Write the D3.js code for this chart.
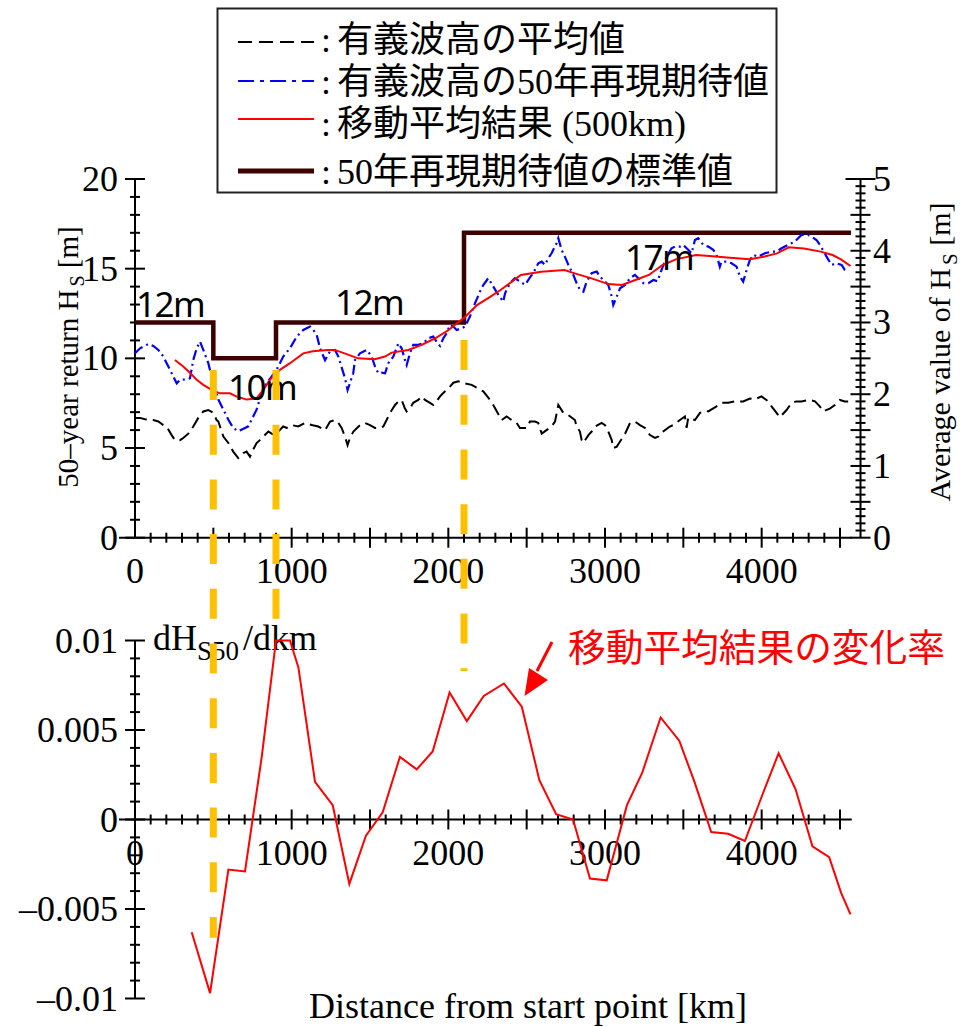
<!DOCTYPE html>
<html><head><meta charset="utf-8">
<script src="https://cdn.jsdelivr.net/npm/d3@7"></script>
<style>body{margin:0;background:#fff}svg{display:block}</style>
</head><body>
<svg id="c" width="971" height="1027"></svg>
<script>
// ---------------- DATA ----------------
const blueKm = [0,32,85,117,149,181,202,234,266,287,330,351,372,394,415,436,468,489,532,564,596,627,659,702,723,755,776,808,840,904,946,989,1032,1074,1117,1138,1160,1181,1213,1245,1277,1298,1319,1340,1357,1393,1404,1436,1479,1511,1532,1553,1574,1596,1617,1649,1681,1702,1723,1734,1755,1776,1808,1840,1872,1904,1925,1947,1968,1989,2010,2032,2053,2085,2106,2138,2170,2202,2223,2255,2287,2319,2351,2362,2393,2425,2457,2490,2520,2542,2574,2596,2617,2638,2659,2691,2702,2723,2744,2766,2798,2819,2840,2862,2883,2915,2947,2968,3000,3021,3043,3053,3075,3096,3128,3160,3191,3213,3245,3277,3309,3335,3361,3393,3425,3446,3478,3499,3531,3553,3574,3595,3627,3659,3691,3712,3733,3744,3776,3808,3840,3861,3882,3904,3925,3946,3978,4020,4063,4095,4127,4170,4212,4233,4254,4297,4318,4350,4371,4403,4414,4446,4478,4510,4531,4550];
const blueHs = [10.28,10.56,10.8,10.69,10.47,10.1,9.73,9.17,8.61,8.8,8.83,8.89,9.91,10.56,10.93,10.47,9.73,8.98,7.7,7.14,6.58,6.12,5.94,6.12,6.21,6.77,7.14,8.05,8.61,9.36,10.1,10.56,11.21,11.58,11.77,11.58,11.31,10.56,9.9,10.4,10.47,10.1,9.5,8.9,8.24,9.17,9.91,10.28,10.47,10.1,9.54,9.17,9.2,9.17,9.73,10.1,10.84,10.56,9.91,9.63,10.28,10.75,10.75,10.84,11.12,11.21,10.93,10.69,11.12,11.4,11.86,11.77,11.58,11.68,11.77,12.33,13.07,13.72,14.09,14.47,14.0,13.54,13.16,13.63,14.19,14.47,14.28,14.1,14.5,14.75,15.3,15.39,15.21,15.58,15.86,16.42,16.7,16.05,15.67,15.21,14.65,14.19,13.82,13.72,14.28,14.75,14.84,14.56,14.28,14.09,13.44,12.98,13.44,13.91,14.09,14.47,14.65,14.47,14.19,14.19,14.37,14.3,14.93,15.67,16.14,16.23,16.23,16.33,16.05,15.86,16.6,16.7,16.33,16.23,16.05,15.77,15.11,15.39,15.39,15.3,15.11,14.56,14.28,14.93,15.49,15.77,15.67,15.86,15.95,15.95,16.14,16.33,16.51,16.7,16.88,16.88,16.79,16.6,16.33,15.86,15.67,15.21,15.3,15.21,14.93,14.9];

const avgKm = [0,32,64,117,149,181,202,234,255,287,308,340,372,404,436,468,500,521,532,564,596,627,659,691,712,734,755,776,797,819,851,872,893,946,968,1000,1042,1085,1128,1170,1213,1245,1277,1298,1319,1340,1357,1372,1394,1436,1468,1500,1532,1564,1585,1606,1628,1660,1681,1702,1723,1734,1755,1776,1808,1830,1851,1883,1904,1925,1947,1979,2000,2032,2064,2106,2149,2191,2223,2266,2287,2340,2372,2404,2436,2457,2500,2521,2553,2574,2596,2627,2659,2681,2702,2734,2766,2808,2819,2840,2851,2862,2894,2915,2936,2979,3000,3021,3043,3053,3075,3096,3128,3160,3191,3223,3255,3287,3319,3340,3351,3383,3414,3436,3478,3510,3521,3531,3574,3606,3638,3659,3712,3744,3787,3829,3882,3925,3957,3999,4042,4063,4095,4116,4159,4191,4223,4254,4308,4340,4371,4393,4435,4467,4499,4531,4552];
const avgHs = [1.67,1.67,1.65,1.64,1.62,1.57,1.55,1.43,1.36,1.36,1.39,1.45,1.55,1.67,1.76,1.78,1.74,1.64,1.62,1.41,1.32,1.2,1.11,1.18,1.2,1.13,1.23,1.32,1.36,1.41,1.48,1.45,1.43,1.55,1.53,1.57,1.55,1.6,1.57,1.55,1.5,1.62,1.64,1.6,1.53,1.41,1.29,1.39,1.48,1.57,1.6,1.57,1.53,1.53,1.55,1.64,1.74,1.85,1.9,1.92,1.8,1.76,1.8,1.88,1.92,1.97,1.92,1.88,1.85,1.9,1.97,2.04,2.08,2.16,2.18,2.15,2.13,2.08,2.04,1.92,1.85,1.64,1.69,1.64,1.6,1.53,1.53,1.62,1.62,1.6,1.45,1.5,1.55,1.62,1.85,1.74,1.71,1.64,1.55,1.48,1.36,1.32,1.43,1.48,1.55,1.6,1.57,1.48,1.36,1.25,1.27,1.34,1.45,1.6,1.62,1.57,1.53,1.43,1.39,1.41,1.45,1.5,1.55,1.57,1.64,1.69,1.53,1.67,1.64,1.74,1.77,1.76,1.83,1.88,1.88,1.9,1.9,1.94,1.93,1.97,1.9,1.83,1.74,1.68,1.78,1.88,1.9,1.9,1.92,1.9,1.83,1.76,1.8,1.85,1.92,1.9,1.9];

const maKm = [255,308,351,394,436,489,542,606,649,713,776,819,861,925,989,1074,1135,1231,1274,1338,1424,1531,1595,1638,1745,1830,1916,2002,2108,2183,2269,2333,2463,2592,2742,2807,2914,3022,3108,3194,3280,3366,3452,3581,3667,3796,3926,4012,4098,4173,4270,4377,4453,4506,4567];
const maHs = [9.91,9.55,9.2,8.8,8.52,8.24,8.05,8.05,7.87,7.7,7.77,8.24,8.8,9.36,9.73,10.28,10.4,10.47,10.47,10.28,10.0,9.95,10.1,10.32,10.47,10.75,11.12,11.58,12.32,12.97,13.44,13.81,14.65,14.83,14.93,14.74,14.46,14.14,14.09,14.37,14.65,15.2,15.52,15.76,15.71,15.61,15.52,15.67,15.85,16.19,16.13,15.95,15.76,15.52,15.15];

const rateKm = [362,479,596,702,809,900,989,1043,1149,1262,1368,1474,1581,1691,1798,1900,2008,2118,2226,2355,2469,2581,2688,2796,2904,3011,3140,3237,3355,3474,3571,3678,3786,3893,4001,4108,4216,4324,4431,4507,4567];
const rateVal = [-0.0063,-0.0097,-0.0028,-0.0029,0.0035,0.0100,0.0100,0.0085,0.0021,0.0008,-0.0036,-0.0009,0.0004,0.0035,0.0028,0.0038,0.0071,0.0055,0.0069,0.0076,0.0063,0.0022,0.0003,0.0000,-0.0033,-0.0034,0.0008,0.0026,0.0057,0.0044,0.0021,-0.0007,-0.0008,-0.0012,0.0013,0.0037,0.0017,-0.0015,-0.0021,-0.0041,-0.0053];

const stdKm = [0,500,900,2100,4570];
const stdHs = [12,10,12,17,17];
const stdTexts = ["12m","10m","12m","17m"];
const guideKm = [500,900,2100];

const xTickVals = [0,1000,2000,3000,4000];
const leftTickVals = [0,5,10,15,20];
const rightTickVals = [0,1,2,3,4,5];
const rateTickVals = [-0.01,-0.005,0,0.005,0.01];
const rateTickText = ["\u20130.01","\u20130.005","0","0.005","0.01"];

const legendTexts = ["有義波高の平均値","有義波高の50年再現期待値","移動平均結果 (500km)","50年再現期待値の標準値"];

// ---------------- LAYOUT ----------------
const SERIF = "'Liberation Serif','Times New Roman','Noto Sans CJK JP',serif";
const SANS = "'Noto Sans','Liberation Sans',sans-serif";
const CJK = "'Noto Sans CJK JP','Noto Sans',sans-serif";
const svg = d3.select("#c");

const x = d3.scaleLinear().domain([0,4500]).range([135,840]);
const yL = d3.scaleLinear().domain([0,20]).range([537.7,179]);
const yR = d3.scaleLinear().domain([0,5]).range([537.7,179]);
const yB = d3.scaleLinear().domain([-0.01,0.01]).range([998.5,640.5]);
const xEnd = x(4575);
const rightX = 860.5;

const ax = svg.append("g").attr("stroke","#000").attr("stroke-width",2).attr("fill","none");

function hTicks(x0, ys, lens){ ys.forEach((yy,i)=>{ ax.append("line").attr("x1",x0-lens[i]).attr("x2",x0+lens[i]).attr("y1",yy).attr("y2",yy); }); }
function vTicks(y0, xs, lens){ xs.forEach((xx,i)=>{ ax.append("line").attr("y1",y0-lens[i]).attr("y2",y0+lens[i]).attr("x1",xx).attr("x2",xx); }); }

// top plot axes
ax.append("line").attr("x1",x(0)).attr("x2",x(0)).attr("y1",yL(20)).attr("y2",yL(0));
ax.append("line").attr("x1",rightX).attr("x2",rightX).attr("y1",yR(5)).attr("y2",yR(0));
ax.append("line").attr("x1",119).attr("x2",xEnd).attr("y1",yL(0)).attr("y2",yL(0));
const lt = d3.range(0,21,1);
hTicks(x(0), lt.map(v=>yL(v)), lt.map(v=>v%5===0?10:5));
const rt = d3.range(0,51,1);
hTicks(rightX, rt.map(v=>yR(v/10)), rt.map(v=>v===50?15:(v%5===0?10:5)));
const xt = d3.range(100,4501,100);
vTicks(yL(0), xt.map(v=>x(v)), xt.map(v=>v%500===0?10:5));

// bottom plot axes
ax.append("line").attr("x1",x(0)).attr("x2",x(0)).attr("y1",yB(0.01)).attr("y2",yB(-0.01));
ax.append("line").attr("x1",119).attr("x2",xEnd).attr("y1",yB(0)).attr("y2",yB(0));
const bt = d3.range(-10,11,1);
hTicks(x(0), bt.map(v=>yB(v/1000)), bt.map(v=>v%5===0?10:5));
vTicks(yB(0), xt.map(v=>x(v)), xt.map(v=>v%500===0?10:5));

// tick labels
const tl = svg.append("g").attr("font-family",SERIF).attr("font-size",36).attr("fill","#000");
tl.selectAll(".xl1").data(xTickVals).join("text").attr("x",d=>x(d)).attr("y",583).attr("text-anchor","middle").text(d=>d);
tl.selectAll(".xl2").data(xTickVals).join("text").attr("x",d=>x(d)).attr("y",865).attr("text-anchor","middle").text(d=>d);
tl.selectAll(".yl").data(leftTickVals).join("text").attr("x",118).attr("y",d=>yL(d)+12).attr("text-anchor","end").text(d=>d);
tl.selectAll(".yr").data(rightTickVals).join("text").attr("x",873).attr("y",d=>yR(d)+12).attr("text-anchor","start").text(d=>d);
tl.selectAll(".yb").data(rateTickVals).join("text").attr("x",118).attr("y",d=>yB(d)+12).attr("text-anchor","end").text((d,i)=>rateTickText[i]);

// axis titles
const lt1 = svg.append("text").attr("transform","translate(78,357) rotate(-90)").attr("text-anchor","middle")
  .attr("font-family",SERIF).attr("font-size",29);
lt1.append("tspan").text("50\u2013year return H");
lt1.append("tspan").attr("font-size",20).attr("dy",6).attr("dx",3).text("S");
lt1.append("tspan").attr("dy",-6).text(" [m]");
const rt1 = svg.append("text").attr("transform","translate(950,352) rotate(-90)").attr("text-anchor","middle")
  .attr("font-family",SERIF).attr("font-size",30);
rt1.append("tspan").text("Average value of H");
rt1.append("tspan").attr("font-size",21).attr("dy",7).attr("dx",3).text("S");
rt1.append("tspan").attr("dy",-7).text(" [m]");
svg.append("text").attr("x",528).attr("y",1018).attr("text-anchor","middle").attr("font-family",SERIF).attr("font-size",36)
  .text("Distance from start point [km]");
const dh = svg.append("text").attr("x",153).attr("y",650).attr("font-family",SERIF).attr("font-size",36);
dh.append("tspan").text("dH");
dh.append("tspan").attr("font-size",27).attr("dy",10).text("S50");
dh.append("tspan").attr("dy",-10).attr("dx",4).text("/dkm");

// series
const lineT = (ys)=>d3.line().x(d=>x(d[0])).y(d=>ys(d[1]));
svg.append("path").datum(stdKm.map((k,i)=>[k,stdHs[i]])).attr("d",lineT(yL).curve(d3.curveStepAfter))
  .attr("fill","none").attr("stroke","#3c0000").attr("stroke-width",4.5);
svg.append("path").datum(avgKm.map((k,i)=>[k,avgHs[i]])).attr("d",lineT(yR))
  .attr("fill","none").attr("stroke","#000").attr("stroke-width",2).attr("stroke-dasharray","12,6");
svg.append("path").datum(blueKm.map((k,i)=>[k,blueHs[i]])).attr("d",lineT(yL))
  .attr("fill","none").attr("stroke","#0000ff").attr("stroke-width",2.2).attr("stroke-dasharray","10,4,2,4");
svg.append("path").datum(maKm.map((k,i)=>[k,maHs[i]])).attr("d",lineT(yL))
  .attr("fill","none").attr("stroke","#ff0000").attr("stroke-width",2);
svg.append("path").datum(rateKm.map((k,i)=>[k,rateVal[i]])).attr("d",lineT(yB))
  .attr("fill","none").attr("stroke","#ff0000").attr("stroke-width",2);

// standard value labels
const stdPos = [[6,12.3],[594,7.68],[1277,12.41],[3128,14.93]];
svg.append("g").attr("font-family",SANS).attr("font-size",35).attr("fill","#000").attr("letter-spacing",-1.5)
  .selectAll("text").data(stdTexts).join("text").attr("x",(d,i)=>x(stdPos[i][0])).attr("y",(d,i)=>yL(stdPos[i][1])).text(d=>d);

// orange guide lines
const guideTop = [9.35,9.35,11.02];      // top-plot units
const guideBot = [-0.0066,0.0112,0.0083]; // bottom-plot units
svg.append("g").selectAll("line").data(guideKm).join("line")
  .attr("x1",d=>x(d)).attr("x2",d=>x(d)).attr("y1",(d,i)=>yL(guideTop[i])).attr("y2",(d,i)=>yB(guideBot[i]))
  .attr("stroke","#ffc000").attr("stroke-width",7).attr("stroke-dasharray","30,24.7");

// annotation
svg.append("text").attr("x",568).attr("y",661).attr("font-family",CJK).attr("font-size",37.7).attr("fill","#ff0000")
  .text("移動平均結果の変化率");
svg.append("line").attr("x1",552).attr("y1",642).attr("x2",537).attr("y2",671).attr("stroke","#ff0000").attr("stroke-width",3);
svg.append("polygon").attr("points","524.5,696 529,668 548,680").attr("fill","#ff0000");

// legend
svg.append("rect").attr("x",217.5).attr("y",8.5).attr("width",559).attr("height",184).attr("fill","#fff")
  .attr("stroke","#222").attr("stroke-width",2);
const legY = [42,81,119,171];
const legBase = [52,94,136,184];
const legStyles = [
  {c:"#000",w:2,d:"14,7"},
  {c:"#0000ff",w:2.2,d:"16,6,4,6"},
  {c:"#ff0000",w:2,d:null},
  {c:"#3c0000",w:5,d:null}];
legendTexts.forEach((t,i)=>{
  const s = legStyles[i];
  const l = svg.append("line").attr("x1",238).attr("x2",314).attr("y1",legY[i]).attr("y2",legY[i])
    .attr("stroke",s.c).attr("stroke-width",s.w);
  if(s.d) l.attr("stroke-dasharray",s.d);
  svg.append("text").attr("x",321).attr("y",legBase[i]).attr("font-family",SERIF).attr("font-size",36).text(":");
  svg.append("text").attr("x",337).attr("y",legBase[i]).attr("font-family",SERIF).attr("font-size",36).text(t);
});
</script>
</body></html>
